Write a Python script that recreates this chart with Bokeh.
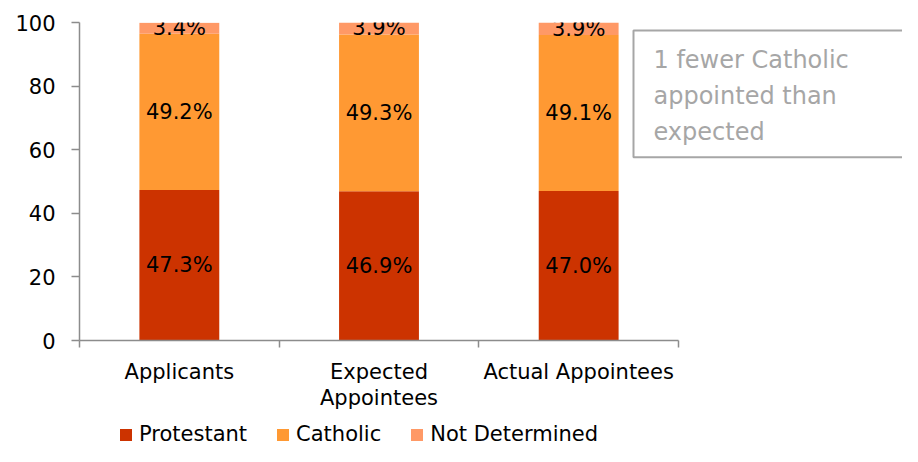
from bokeh.plotting import figure
from bokeh.layouts import column
from bokeh.models import (ColumnDataSource, FixedTicker, Label, Legend, LegendItem, Range1d)
from bokeh.core.properties import value
from bokeh.embed import file_html
from bokeh.resources import INLINE

categories = ["Applicants", "Expected\nAppointees", "Actual Appointees"]
protestant = [47.3, 46.9, 47.0]
catholic = [49.2, 49.3, 49.1]
not_determined = [3.4, 3.9, 3.9]
series_names = ["Protestant", "Catholic", "Not Determined"]
colors = ["#CC3300", "#FF9933", "#FF9966"]
y_ticks = [0, 20, 40, 60, 80, 100]
note_text = "1 fewer Catholic\nappointed than\nexpected"

FONT = "DejaVu Sans"
W = 902
H1, H2 = 418, 28
LEFT, TOP = 79, 22
FRAME_BOTTOM = 340
BOTTOM = H1 - FRAME_BOTTOM
AXIS_PX = 599  # pixel length of the category axis
n = len(categories)
frame_w = W - LEFT
x_end = n * frame_w / AXIS_PX

xs = [i + 0.5 for i in range(n)]
src = ColumnDataSource(dict(x=xs, Protestant=protestant, Catholic=catholic,
                            **{"Not Determined": not_determined}))

p = figure(width=W, height=H1, output_backend="svg", toolbar_location=None,
           x_range=Range1d(0, x_end), y_range=Range1d(0, 100),
           min_border_left=LEFT, min_border_right=0, min_border_top=TOP, min_border_bottom=BOTTOM)
p.outline_line_color = None
p.grid.visible = False

rs = p.vbar_stack(series_names, x="x", width=0.4, source=src, color=colors, line_color=None)

# segment labels
lx, ly, lt = [], [], []
for i in range(n):
    base = 0.0
    for vals in (protestant, catholic, not_determined):
        v = vals[i]
        lx.append(xs[i]); ly.append(base + v / 2); lt.append(f"{v:.1f}%")
        base += v
p.text(x=lx, y=ly, text=lt, text_align="center", text_baseline="middle",
       text_font=value(FONT), text_font_size="21px", text_color="black")

# axes
xa = p.xaxis[0]
xa.bounds = (0, n)
xa.ticker = FixedTicker(ticks=xs, minor_ticks=list(range(n + 1)))
xa.major_label_overrides = {x: c for x, c in zip(xs, categories)}
xa.major_tick_line_color = None
xa.major_tick_out = 0
xa.minor_tick_in = 0
xa.minor_tick_out = 7
xa.minor_tick_line_color = "#8C8C8C"
xa.minor_tick_line_width = 1.5
xa.axis_line_color = "#8C8C8C"
xa.axis_line_width = 1.5
xa.major_label_text_font = FONT
xa.major_label_text_font_size = "21px"
xa.major_label_text_color = "black"
xa.major_label_text_line_height = 1.1
xa.major_label_standoff = 12

ya = p.yaxis[0]
ya.ticker = FixedTicker(ticks=y_ticks)
ya.minor_tick_line_color = None
ya.major_tick_in = 0
ya.major_tick_out = 8
ya.major_tick_line_color = "#8C8C8C"
ya.major_tick_line_width = 1.5
ya.axis_line_color = "#8C8C8C"
ya.axis_line_width = 1.5
ya.major_label_text_font = FONT
ya.major_label_text_font_size = "21px"
ya.major_label_text_color = "black"
ya.major_label_standoff = 16

# note box
note = Label(x=633 - LEFT, y=FRAME_BOTTOM - 30, x_units="screen", y_units="screen", text=note_text,
             anchor="top_left", text_font=FONT, text_font_size="24px", text_color="#A6A6A6",
             text_line_height=1.3, border_line_color="#A6A6A6", border_line_width=2,
             background_fill_color="white",
             padding=dict(left=20, right=400, top=15, bottom=11))
p.add_layout(note)

# legend strip (its bars lie outside the visible y range; only the legend shows)
p2 = figure(width=W, height=H2, output_backend="svg", toolbar_location=None,
            x_range=Range1d(0, x_end), y_range=Range1d(1000, 1001),
            min_border_left=0, min_border_right=0, min_border_top=0, min_border_bottom=0)
p2.axis.visible = False
p2.grid.visible = False
p2.outline_line_color = None
lrs = p2.vbar_stack(series_names, x="x", width=0.4, source=src, color=colors, line_color=None)
legend = Legend(items=[LegendItem(label=s, renderers=[r]) for s, r in zip(series_names, lrs)],
                orientation="horizontal", location=(118 - LEFT, 0), padding=0, margin=0,
                spacing=28, glyph_width=15, glyph_height=15, label_standoff=6,
                label_text_font=FONT, label_text_font_size="21px", label_text_color="black",
                border_line_color=None, background_fill_alpha=0)
p2.add_layout(legend, "center")

open("out.html", "w").write(file_html(column(p, p2), INLINE))
